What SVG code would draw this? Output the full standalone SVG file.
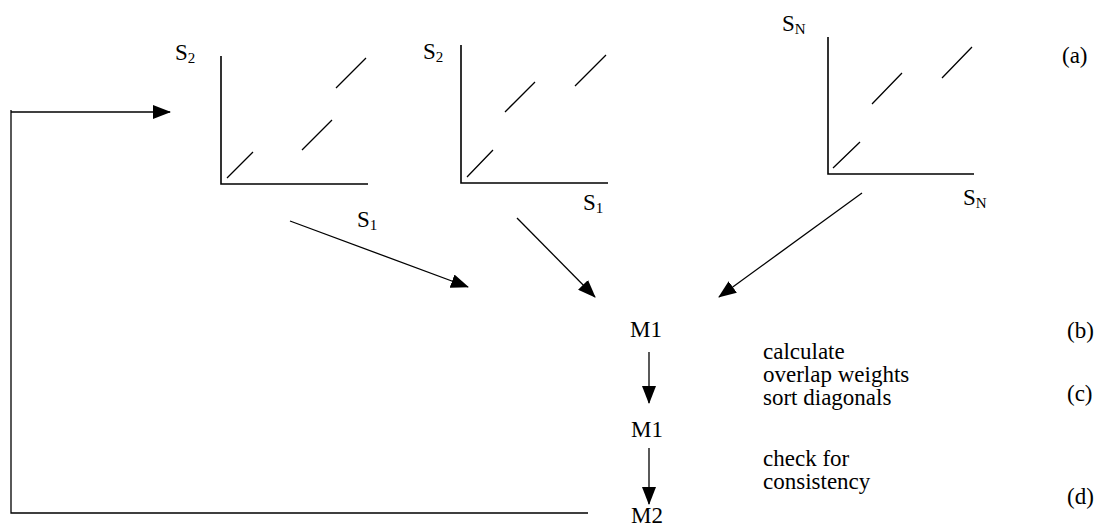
<svg xmlns="http://www.w3.org/2000/svg" width="1100" height="527" viewBox="0 0 1100 527" font-family="'Liberation Serif', 'DejaVu Serif', 'Times New Roman', serif">
<defs>
<marker id="ah" markerUnits="userSpaceOnUse" markerWidth="18" markerHeight="14" refX="17" refY="7" orient="auto">
<path d="M0,0 L18,7 L0,14 Z" fill="#000"/>
</marker>
<style>
text{font-family:'Liberation Serif','DejaVu Serif','Times New Roman',serif;font-size:23px;fill:#000}
.sub{font-size:15px}
.ax{stroke:#000;stroke-width:1.6;fill:none}
.dg{stroke:#000;stroke-width:1.3;fill:none}
.cn{stroke:#000;stroke-width:1.3;fill:none}
</style>
</defs>
<rect width="1100" height="527" fill="#fff"/>
<g id="plot1">
<path class="ax" d="M221,56 V184 H368"/>
<path class="dg" d="M227,178 L253,152 M302,150 L332,120 M336,88 L366,58"/>
<text x="175" y="60">S<tspan class="sub" dy="3">2</tspan></text>
<text x="357" y="227">S<tspan class="sub" dy="3">1</tspan></text>
</g>
<g id="plot2">
<path class="ax" d="M461,45 V183 H608"/>
<path class="dg" d="M467,177 L493,150 M505,112 L535,82 M575,86 L606,55"/>
<text x="423" y="59">S<tspan class="sub" dy="3">2</tspan></text>
<text x="583" y="210">S<tspan class="sub" dy="3">1</tspan></text>
</g>
<g id="plotN">
<path class="ax" d="M828,37 V174 H974"/>
<path class="dg" d="M833,168 L860,142 M872,104 L902,73 M942,78 L972,47"/>
<text x="782" y="31">S<tspan class="sub" dy="3">N</tspan></text>
<text x="963" y="205">S<tspan class="sub" dy="3">N</tspan></text>
</g>
<g id="m1a"><text x="630" y="337">M1</text></g>
<g id="m1b"><text x="631" y="437">M1</text></g>
<g id="m2"><text x="631" y="523">M2</text></g>
<g id="labels">
<text x="1062" y="63">(a)</text>
<text x="1067" y="338">(b)</text>
<text x="1067" y="401">(c)</text>
<text x="1067" y="504">(d)</text>
<text x="763" y="359">calculate</text>
<text x="763" y="382">overlap weights</text>
<text x="763" y="405">sort diagonals</text>
<text x="763" y="466">check for</text>
<text x="763" y="489">consistency</text>
</g>
<g id="connectors">
<line class="cn" x1="290" y1="221" x2="468" y2="287" marker-end="url(#ah)"/>
<line class="cn" x1="517" y1="218" x2="595" y2="297" marker-end="url(#ah)"/>
<line class="cn" x1="862" y1="193" x2="719" y2="297" marker-end="url(#ah)"/>
<line class="cn" x1="649" y1="352" x2="649" y2="403" marker-end="url(#ah)"/>
<line class="cn" x1="649" y1="448" x2="649" y2="504" marker-end="url(#ah)"/>
<path class="cn" d="M588,513 H11 V110"/>
<line class="cn" x1="11" y1="112" x2="170" y2="112" marker-end="url(#ah)"/>
</g>
</svg>
